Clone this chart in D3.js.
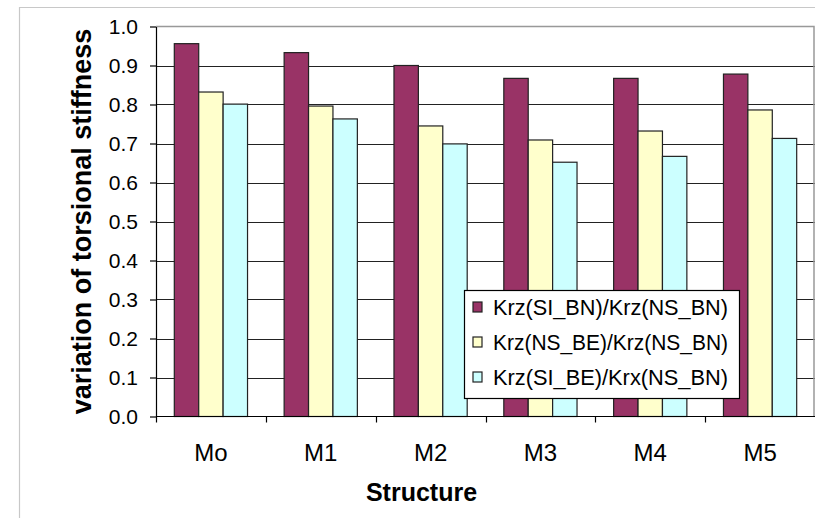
<!DOCTYPE html>
<html lang="en">
<head>
    <meta charset="UTF-8">
    <title>Variation of torsional stiffness</title>
    <style>
        body { margin: 0; background: #fff; }
        svg { display: block; font-family: "Liberation Sans", Arial, sans-serif; }
        .grid line { stroke: #222; stroke-width: 1.2px; }
        .axis path, .axis line { stroke: #000; stroke-width: 1.2px; }
        .axis text { fill: #000; }
        .bar { stroke: #222; stroke-width: 1.2px; }
    </style>
</head>
<body>
    <script src="https://d3js.org/d3.v7.min.js"></script>
    <script>
        // data
        const categories = ["Mo", "M1", "M2", "M3", "M4", "M5"];
        const seriesNames = ["Krz(SI_BN)/Krz(NS_BN)", "Krz(NS_BE)/Krz(NS_BN)", "Krz(SI_BE)/Krx(NS_BN)"];
        const siBn = [0.956, 0.933, 0.900, 0.867, 0.867, 0.878];
        const nsBe = [0.832, 0.796, 0.745, 0.709, 0.732, 0.786];
        const siBe = [0.801, 0.763, 0.699, 0.652, 0.667, 0.713];
        const yTicks = [0, 0.1, 0.2, 0.3, 0.4, 0.5, 0.6, 0.7, 0.8, 0.9, 1.0];
        const colors = ["#993366", "#ffffcc", "#ccffff"];

        const W = 815, H = 518;
        const plot = {left: 156, right: 815, top: 26.5, bottom: 416.5};

        const svg = d3.select("body").append("svg")
            .attr("width", W)
            .attr("height", H);

        // outer chart frame
        svg.append("path")
            .attr("d", `M19.5,${H} V7.5 H${W}`)
            .attr("fill", "none")
            .attr("stroke", "#c8c8c8")
            .attr("stroke-width", 1.2);

        const x0 = d3.scaleBand()
            .domain(categories)
            .range([plot.left, plot.right]);

        const x1 = d3.scaleBand()
            .domain(seriesNames)
            .range([0, x0.bandwidth()])
            .paddingOuter(0.75);

        const y = d3.scaleLinear()
            .domain([0, 1])
            .range([plot.bottom, plot.top]);

        // gridlines
        svg.append("g")
            .attr("class", "grid")
            .selectAll("line")
            .data(yTicks.filter(d => d > 0 && d < 1))
            .join("line")
            .attr("x1", plot.left)
            .attr("x2", plot.right)
            .attr("y1", d => Math.round(y(d)) + 0.5)
            .attr("y2", d => Math.round(y(d)) + 0.5);

        // plot area border (top + right)
        svg.append("path")
            .attr("d", `M${plot.left},${plot.top} H${plot.right - 1} V${plot.bottom}`)
            .attr("fill", "none")
            .attr("stroke", "#999")
            .attr("stroke-width", 1.5);

        const rows = categories.map((c, i) => ({cat: c, values: [siBn[i], nsBe[i], siBe[i]]}));

        const groups = svg.append("g")
            .selectAll("g")
            .data(rows)
            .join("g")
            .attr("transform", d => `translate(${x0(d.cat)},0)`);

        groups.selectAll("rect")
            .data(d => d.values.map((v, j) => ({name: seriesNames[j], value: v, j})))
            .join("rect")
            .attr("class", "bar")
            .attr("x", d => x1(d.name))
            .attr("width", x1.bandwidth())
            .attr("y", d => y(d.value))
            .attr("height", d => y(0) - y(d.value))
            .attr("fill", d => colors[d.j]);

        // y axis
        const yAxis = svg.append("g")
            .attr("class", "axis")
            .attr("transform", `translate(${plot.left},0)`)
            .call(d3.axisLeft(y).tickValues(yTicks).tickFormat(d3.format(".1f")).tickSize(6).tickSizeOuter(0).tickPadding(12));
        yAxis.selectAll("text").style("font-size", "21px");

        // x axis, ticks at band edges
        const xAxis = svg.append("g")
            .attr("class", "axis")
            .attr("transform", `translate(0,${plot.bottom})`);
        xAxis.append("line")
            .attr("x1", plot.left).attr("x2", plot.right);
        xAxis.selectAll("line.tick")
            .data(categories)
            .join("line")
            .attr("class", "tick")
            .attr("x1", d => Math.round(x0(d)) + 0.5)
            .attr("x2", d => Math.round(x0(d)) + 0.5)
            .attr("y1", 0)
            .attr("y2", 6);
        xAxis.selectAll("text")
            .data(categories)
            .join("text")
            .attr("x", d => x0(d) + x0.bandwidth() / 2)
            .attr("y", 44)
            .attr("text-anchor", "middle")
            .style("font-size", "24px")
            .text(d => d);

        // axis titles
        svg.append("text")
            .attr("x", (plot.left + plot.right) / 2 - 64)
            .attr("y", 501)
            .attr("text-anchor", "middle")
            .style("font-size", "25px")
            .style("font-weight", "bold")
            .text("Structure");

        svg.append("text")
            .attr("transform", `translate(91,${(plot.top + plot.bottom) / 2}) rotate(-90)`)
            .attr("text-anchor", "middle")
            .style("font-size", "27px")
            .style("font-weight", "bold")
            .text("variation of torsional stiffness");

        // legend
        const legend = svg.append("g")
            .attr("transform", "translate(464,290)");
        legend.append("rect")
            .attr("x", 0.5).attr("y", 0.5)
            .attr("width", 275).attr("height", 108)
            .attr("fill", "#fff")
            .attr("stroke", "#000")
            .attr("stroke-width", 1.2);
        const item = legend.selectAll("g.item")
            .data(seriesNames)
            .join("g")
            .attr("class", "item")
            .attr("transform", (d, i) => `translate(9,${17 + i * 35})`);
        item.append("rect")
            .attr("x", 0).attr("y", -5)
            .attr("width", 9).attr("height", 10)
            .attr("fill", (d, i) => colors[i])
            .attr("stroke", "#222")
            .attr("stroke-width", 1.2);
        item.append("text")
            .attr("x", 20)
            .attr("y", 8)
            .attr("textLength", 235)
            .attr("lengthAdjust", "spacingAndGlyphs")
            .style("font-size", "22px")
            .text(d => d);
    </script>
</body>
</html>
